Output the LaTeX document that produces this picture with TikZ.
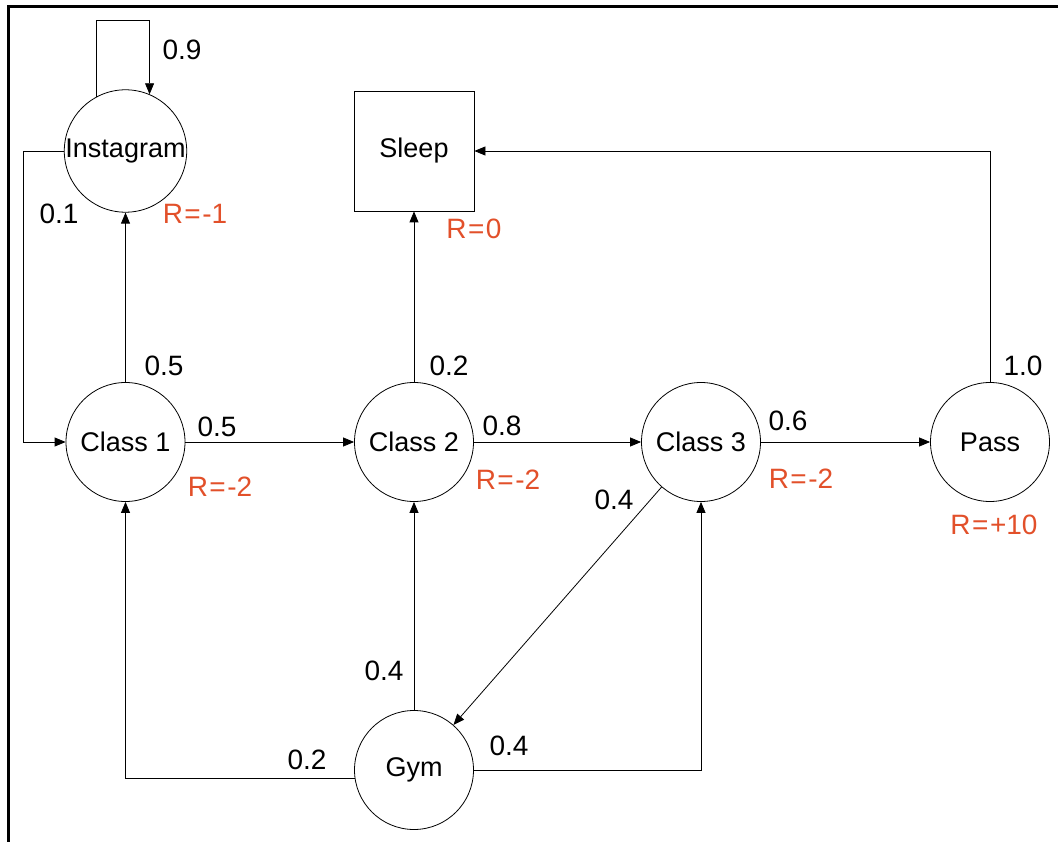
\documentclass[tikz,border=0pt]{standalone}
\usepackage{fontspec}
\setmainfont{Liberation Sans}
\usetikzlibrary{arrows.meta}
\definecolor{reward}{RGB}{226,80,42}
\newcommand{\eqsign}{\kern1.5pt=\kern1.5pt}
\begin{document}
\begin{tikzpicture}[x=1pt,y=-1pt,
  font=\fontsize{27}{31}\selectfont,
  state/.style={draw,circle,line width=0.8pt,inner sep=0pt,minimum size=119pt},
  terminal/.style={draw,rectangle,line width=0.8pt,inner sep=0pt,minimum size=120pt},
  arr/.style={line width=0.8pt,-{Triangle[length=11pt,width=9pt]}},
  prob/.style={inner sep=0pt,font=\fontsize{28}{32}\selectfont},
  rew/.style={inner sep=0pt,text=reward,font=\fontsize{28}{32}\selectfont}]
\useasboundingbox (0,0) rectangle (1058,842);
% frame on the left and top
\draw[line width=3pt] (8.5,842) -- (8.5,6.5) -- (1058,6.5);

% states
\node[state] (inst) at (125.5,151) {Instagram};
\node[terminal] (sleep) at (414,151) {Sleep};
\node[state] (c1) at (125.5,442) {Class 1};
\node[state] (c2) at (414,442) {Class 2};
\node[state] (c3) at (701,442) {Class 3};
\node[state] (pass) at (990,442) {Pass};
\node[state] (gym) at (414,770) {Gym};

% transitions
\coordinate (looptop) at (0,20);
\coordinate (loopR) at (inst.67 |- looptop);
\draw[arr] (inst.118) |- (loopR) -- (inst.67);
\coordinate (instL) at (23,151);
\draw[arr] (inst.west) -- (instL) |- (c1.west);
\draw[arr] (c1.north) -- (inst.south);
\draw[arr] (c1.east) -- (c2.west);
\draw[arr] (c2.north) -- (sleep.south);
\draw[arr] (c2.east) -- (c3.west);
\draw[arr] (c3.east) -- (pass.west);
\draw[arr] (pass.north) |- (sleep.east);
\draw[arr] (c3) -- (gym);
\draw[arr] (gym.north) -- (c2.south);
\draw[arr] (gym.188) -| (c1.south);
\draw[arr] (gym.east) -| (c3.south);

% transition probabilities
\node[prob] (p99) at (182,50) {0.9};
\node[prob] (p01) at (59,214) {0.1};
\node[prob] (p1i) at (164,366) {0.5};
\node[prob] (p12) at (217,427) {0.5};
\node[prob] (p2s) at (449,366) {0.2};
\node[prob] (p23) at (502,426) {0.8};
\node[prob] (p3p) at (788,421) {0.6};
\node[prob] (pps) at (1023,366) {1.0};
\node[prob] (p3g) at (614,500) {0.4};
\node[prob] (pg2) at (384,671) {0.4};
\node[prob] (pg3) at (509,746) {0.4};
\node[prob] (pg1) at (307,760) {0.2};

% rewards
\node[rew] (ri) at (195,214) {R\eqsign-1};
\node[rew] (rs) at (474,229) {R\eqsign0};
\node[rew] (r1) at (220,487) {R\eqsign-2};
\node[rew] (r2) at (508,480) {R\eqsign-2};
\node[rew] (r3) at (801,479) {R\eqsign-2};
\node[rew] (rp) at (994,525) {R\eqsign+10};
\end{tikzpicture}
\end{document}
